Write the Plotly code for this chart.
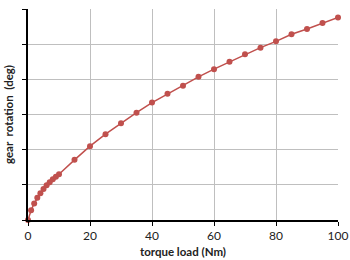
import plotly.graph_objects as go

torque = [0, 1, 2, 3, 4, 5, 6, 7, 8, 9, 10, 15, 20, 25, 30, 35, 40, 45, 50,
          55, 60, 65, 70, 75, 80, 85, 90, 95, 100]
rotation = [0, 2.8, 4.7, 6.3, 7.6, 8.8, 9.9, 10.7, 11.6, 12.3, 13.0, 17.1, 21.0,
            24.4, 27.5, 30.5, 33.4, 35.9, 38.2, 40.7, 42.9, 45.0, 47.1, 49.0,
            50.8, 52.8, 54.3, 56.0, 57.6]
x_ticks = [0, 20, 40, 60, 80, 100]

red = "#c0504d"
fig = go.Figure()
fig.add_trace(go.Scatter(
    x=torque, y=rotation, mode="lines+markers",
    line=dict(color=red, width=1.5),
    marker=dict(color=red, size=6),
    showlegend=False, cliponaxis=False,
))
fig.update_layout(
    width=350, height=260,
    margin=dict(l=28, r=12, t=9, b=40),
    paper_bgcolor="white", plot_bgcolor="white",
    font=dict(family="Lato, Open Sans, sans-serif", color="#222"),
)
fig.update_xaxes(
    range=[0, 100], tickvals=x_ticks, ticktext=[str(v) for v in x_ticks],
    showgrid=True, gridcolor="#bfbfbf", gridwidth=1,
    showline=True, linecolor="black", linewidth=2,
    ticks="outside", ticklen=4, tickcolor="black", tickwidth=1,
    tickfont=dict(size=12),
    zeroline=False, automargin=False,
    title=dict(text="<b>torque load (Nm)</b>", font=dict(size=11.5), standoff=6),
)
fig.update_yaxes(
    range=[0, 60], dtick=10, showticklabels=False,
    showgrid=True, gridcolor="#bfbfbf", gridwidth=1,
    showline=True, linecolor="black", linewidth=2,
    ticks="outside", ticklen=4, tickcolor="black", tickwidth=1,
    zeroline=False, automargin=False,
    title=dict(text="<b>gear&nbsp;&nbsp;rotation&nbsp;&nbsp;(deg)</b>", font=dict(size=11.5), standoff=6),
)
fig.write_html("out.html")
